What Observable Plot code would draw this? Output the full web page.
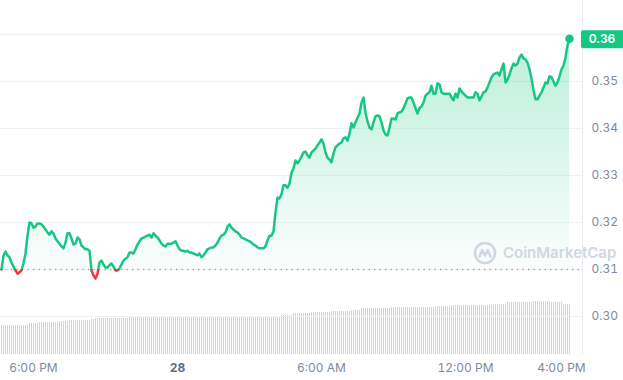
<!DOCTYPE html>
<html><head><meta charset="utf-8">
<script src="https://cdn.jsdelivr.net/npm/d3@7"></script>
<script src="https://cdn.jsdelivr.net/npm/@observablehq/plot@0.6"></script>
<style>
html,body{margin:0;padding:0;background:#fff;}
#chart{position:relative;width:623px;height:380px;overflow:hidden;font-family:Inter,sans-serif;}
#chart > svg{position:absolute;left:0;top:0;}
#wm{position:absolute;left:473px;top:241px;display:flex;align-items:center;gap:6px;color:#d0d6e2;font:600 15px Inter,sans-serif;line-height:24px;}
</style></head><body>
<div id="chart"></div>
<script>
// ---- data ----
const startTime = "2023-12-27T16:40:00Z";
const stepMinutes = 5;
const openPrice = 0.3100;
const prices = [
0.3100,0.3130,0.3138,0.3130,0.3126,0.3115,0.3106,0.3098,0.3091,0.3094,
0.3098,0.3113,0.3134,0.3172,0.3200,0.3198,0.3189,0.3191,0.3198,0.3198,
0.3196,0.3191,0.3185,0.3179,0.3174,0.3181,0.3177,0.3166,0.3160,0.3155,
0.3149,0.3145,0.3157,0.3177,0.3177,0.3166,0.3153,0.3155,0.3168,0.3164,
0.3151,0.3147,0.3143,0.3143,0.3140,0.3098,0.3087,0.3081,0.3091,0.3115,
0.3119,0.3111,0.3104,0.3104,0.3109,0.3113,0.3106,0.3098,0.3098,0.3102,
0.3111,0.3119,0.3123,0.3126,0.3136,0.3136,0.3134,0.3143,0.3153,0.3160,
0.3166,0.3168,0.3170,0.3172,0.3174,0.3168,0.3177,0.3172,0.3168,0.3162,
0.3155,0.3151,0.3149,0.3155,0.3155,0.3155,0.3157,0.3160,0.3151,0.3143,
0.3140,0.3140,0.3138,0.3140,0.3136,0.3136,0.3134,0.3132,0.3130,0.3134,
0.3126,0.3130,0.3136,0.3143,0.3145,0.3147,0.3147,0.3151,0.3157,0.3166,
0.3172,0.3174,0.3179,0.3191,0.3196,0.3189,0.3185,0.3181,0.3179,0.3174,
0.3168,0.3166,0.3164,0.3162,0.3160,0.3157,0.3153,0.3151,0.3147,0.3145,
0.3145,0.3145,0.3149,0.3162,0.3172,0.3172,0.3181,0.3221,0.3253,0.3251,
0.3260,0.3279,0.3279,0.3274,0.3283,0.3306,0.3315,0.3332,0.3326,0.3332,
0.3340,0.3349,0.3351,0.3343,0.3338,0.3349,0.3353,0.3357,0.3364,0.3370,
0.3377,0.3368,0.3349,0.3338,0.3334,0.3328,0.3347,0.3360,0.3364,0.3368,
0.3370,0.3379,0.3381,0.3374,0.3389,0.3411,0.3402,0.3413,0.3423,0.3432,
0.3455,0.3466,0.3434,0.3415,0.3402,0.3398,0.3413,0.3426,0.3428,0.3426,
0.3413,0.3396,0.3387,0.3385,0.3402,0.3421,0.3421,0.3419,0.3432,0.3434,
0.3436,0.3443,0.3453,0.3464,0.3466,0.3466,0.3455,0.3443,0.3432,0.3443,
0.3447,0.3455,0.3470,0.3474,0.3477,0.3491,0.3474,0.3474,0.3496,0.3494,
0.3477,0.3474,0.3474,0.3474,0.3474,0.3466,0.3460,0.3474,0.3466,0.3485,
0.3479,0.3474,0.3470,0.3466,0.3466,0.3466,0.3466,0.3477,0.3474,0.3460,
0.3468,0.3477,0.3479,0.3487,0.3498,0.3509,0.3515,0.3517,0.3519,0.3513,
0.3526,0.3538,0.3498,0.3504,0.3515,0.3528,0.3538,0.3534,0.3538,0.3551,
0.3557,0.3549,0.3547,0.3540,0.3526,0.3506,0.3481,0.3462,0.3462,0.3470,
0.3477,0.3487,0.3498,0.3496,0.3511,0.3509,0.3500,0.3491,0.3498,0.3511,
0.3526,0.3534,0.3551,0.3577,0.3591
];
// volume bars (relative heights), one per 5-minute step
const volumes = [
29,29,29,29,29,29,29,29,29,29,29,29,29,29,
31,31,31,31,31,
32,32,32,32,32,32,32,32,32,32,
33,33,33,33,33,
34,34,34,34,34,34,34,34,34,34,34,
35,35,
36,36,36,36,36,36,36,36,36,36,36,36,36,36,36,36,36,
37,37,37,37,37,37,37,37,37,37,37,37,37,37,
38,38,38,38,38,38,38,38,38,38,38,38,38,38,38,38,38,38,38,38,38,
38,38,38,38,38,38,38,38,38,38,38,38,38,38,38,38,38,38,38,38,38,
38.5,38.5,38.5,
37,37,37,37,37,37,37,37,37,37,37,37,37,37,37,37,37,
39,39,39,39,39,39,
41,41,41,41,41,41,41,41,41,
42,42,42,42,42,42,42,42,42,42,
43,43,43,43,43,43,43,43,43,43,
44,44,44,44,44,
46,46,46,46,46,46,46,46,46,46,46,46,46,46,46,
47,47,47,47,47,47,47,47,47,47,47,47,47,47,47,47,47,47,47,47,47,47,
48,48,48,48,48,48,48,48,
49,49,49,49,49,49,49,49,49,49,49,49,49,49,49,49,49,49,49,49,
50,50,50,50,50,50,50,50,
52,52,52,52,52,52,52,52,52,52,52,52,52,
53,53,53,53,53,53,53,53,53,
52,52,52,52,52,52,
50,50,50,50
];
const hourTicks = ["2023-12-27T18:00:00Z","2023-12-28T06:00:00Z","2023-12-28T12:00:00Z","2023-12-28T16:00:00Z"];
const dayTicks = ["2023-12-28T00:00:00Z"];
const yTickValues = [0.30,0.31,0.32,0.33,0.34,0.35];
const gridValues = [0.30,0.31,0.32,0.33,0.34,0.35,0.36];
const xDomain = [new Date("2023-12-27T16:37:30Z"), new Date("2023-12-28T16:52:30Z")];
const yDomain = [0.29191, 0.36723];

// ---- build ----
const green = "#16c784", red = "#ea3943";
const t0 = new Date(startTime).getTime();
const data = prices.map((p, i) => ({time: new Date(t0 + i * stepMinutes * 60000), price: p}));
const vdata = volumes.map((v, i) => ({time: new Date(t0 + i * stepMinutes * 60000), volume: v}));
const last = data[data.length - 1];
const W = 623, H = 380;

const common = {width: W, height: H, marginLeft: 0, marginRight: 41, marginBottom: 26};

const vplot = Plot.plot({
  ...common, marginTop: 274,
  style: {background: "transparent"},
  x: {type: "utc", domain: xDomain, axis: null, label: null},
  y: {domain: [0, 80], axis: null, label: null},
  marks: [
    Plot.rectY(vdata, {x: "time", y: "volume", interval: d3.utcMinute.every(5), fill: "#cdd4e2", insetRight: 1, shapeRendering: "crispEdges"})
  ]
});

const plot = Plot.plot({
  ...common, marginTop: 0,
  style: {background: "transparent", fontFamily: "Inter, sans-serif", fontSize: "12px", color: "#808a9d", overflow: "visible"},
  x: {type: "utc", domain: xDomain, label: null},
  y: {domain: yDomain, label: null},
  marks: [
    Plot.ruleY(gridValues, {stroke: "#eff2f5"}),
    Plot.ruleX([xDomain[1]], {stroke: "#e9edf2"}),
    Plot.areaY(data, {x: "time", y1: openPrice, y2: "price", fill: "url(#areaGrad)"}),
    Plot.ruleY([openPrice], {stroke: "#9aa3b5", strokeDasharray: "1.3,4.2", strokeWidth: 1.3}),
    Plot.lineY(data, {x: "time", y: "price", stroke: "url(#lineGrad)", strokeWidth: 2.5, strokeLinejoin: "round", strokeLinecap: "round"}),
    Plot.dot([last], {x: "time", y: "price", r: 4.3, fill: green}),
    Plot.axisY({anchor: "right", ticks: yTickValues, tickSize: 0, tickPadding: 9, tickFormat: ".2f", label: null}),
    Plot.axisX({ticks: hourTicks.map(d => new Date(d)), tickFormat: d3.utcFormat("%-I:%M %p"), tickSize: 0, tickPadding: 9, label: null}),
    Plot.axisX({ticks: dayTicks.map(d => new Date(d)), tickFormat: d3.utcFormat("%-d"), tickSize: 0, tickPadding: 9, fontWeight: 700, fill: "#616e85", label: null})
  ]
});

const yScale = plot.scale("y");
const yOpen = yScale.apply(openPrice);
const yLast = yScale.apply(last.price);
const svg = d3.select(plot);
const defs = svg.insert("defs", ":first-child");
const lg = defs.append("linearGradient").attr("id", "lineGrad").attr("gradientUnits", "userSpaceOnUse")
  .attr("x1", 0).attr("x2", 0).attr("y1", 0).attr("y2", H);
lg.append("stop").attr("offset", yOpen / H).attr("stop-color", green);
lg.append("stop").attr("offset", yOpen / H).attr("stop-color", red);
const ag = defs.append("linearGradient").attr("id", "areaGrad").attr("gradientUnits", "userSpaceOnUse")
  .attr("x1", 0).attr("x2", 0).attr("y1", 0).attr("y2", H);
ag.append("stop").attr("offset", 0).attr("stop-color", green).attr("stop-opacity", 0.3);
ag.append("stop").attr("offset", 30 / H).attr("stop-color", green).attr("stop-opacity", 0.3);
ag.append("stop").attr("offset", yOpen / H).attr("stop-color", green).attr("stop-opacity", 0.02);
ag.append("stop").attr("offset", yOpen / H).attr("stop-color", red).attr("stop-opacity", 0.07);
ag.append("stop").attr("offset", 1).attr("stop-color", red).attr("stop-opacity", 0.07);

// price badge
const badge = svg.append("g");
badge.append("rect").attr("x", 581).attr("y", yLast - 8).attr("width", 44).attr("height", 18).attr("rx", 2).attr("fill", green);
badge.append("text").attr("x", 602).attr("y", yLast + 1).attr("dy", "0.35em").attr("text-anchor", "middle")
  .attr("fill", "#fff").attr("font-weight", 600).attr("font-size", 12).attr("font-family", "Inter, sans-serif")
  .text(d3.format(".2f")(last.price));

const chart = document.getElementById("chart");
chart.appendChild(vplot);
chart.appendChild(plot);

// watermark
const wm = document.createElement("div");
wm.id = "wm";
wm.innerHTML = '<svg width="24" height="24" viewBox="0 0 24 24"><circle cx="12" cy="12" r="10" fill="none" stroke="#d0d6e2" stroke-width="2.6"/><path d="M6.5 15.5 L9.2 9.2 L12 14.5 L14.8 9.2 L17.5 15.5" fill="none" stroke="#d0d6e2" stroke-width="2.6" stroke-linejoin="round" stroke-linecap="round"/></svg><span>CoinMarketCap</span>';
chart.appendChild(wm);
</script>
</body></html>
